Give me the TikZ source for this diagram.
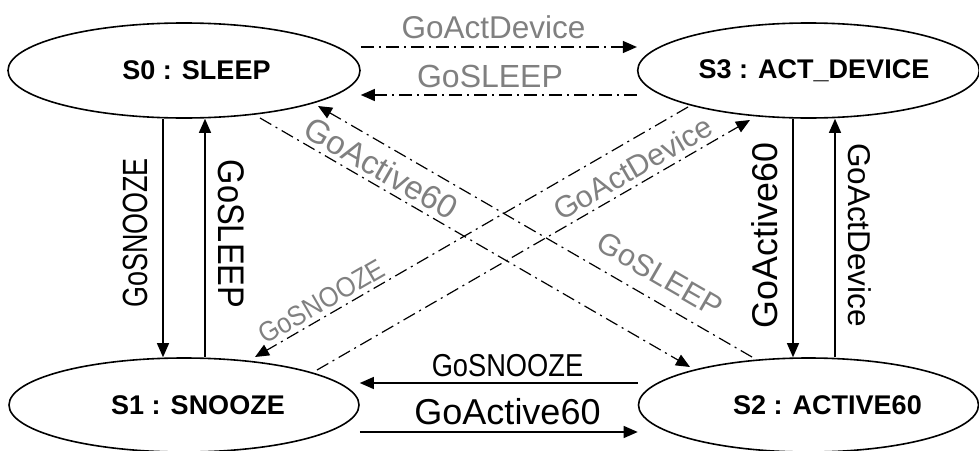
\documentclass[tikz,border=0pt]{standalone}
\usepackage{fontspec}
\usepackage{graphicx}
\setmainfont{Liberation Sans}
\usetikzlibrary{arrows.meta,shapes.geometric,calc}
\definecolor{lblgray}{RGB}{128,128,128}
\tikzset{
  state/.style={draw, ellipse, line width=1.6pt, inner sep=0pt, font=\fontsize{27}{30}\selectfont\bfseries},
  arr/.style={-{Triangle[length=14pt,width=12pt]}, line width=1.2pt},
  dd/.style={arr, dash pattern=on 13pt off 5pt on 2pt off 5pt},
  glbl/.style={text=lblgray, inner sep=0pt},
  blbl/.style={inner sep=0pt},
}
\begin{document}
\begin{tikzpicture}[x=1pt,y=-1pt]
\useasboundingbox (0,0) rectangle (979,450);
% states
\node[state, minimum width=352pt, minimum height=95pt] (S0) at (184,70.5) {\hspace*{25pt}S0 : SLEEP};
\node[state, minimum width=340pt, minimum height=95pt] (S3) at (808.5,70.5) {\hspace*{11pt}S3 : ACT\_DEVICE};
\node[state, minimum width=350pt, minimum height=94pt] (S1) at (184,405) {\hspace*{28pt}S1 : SNOOZE};
\node[state, minimum width=340pt, minimum height=94pt] (S2) at (808.5,405) {\hspace*{38pt}S2 : ACTIVE60};
% vertical connectors
\draw[arr] ($(S0.south)+(-21,0)$) -- ($(S1.north)+(-21,0)$);
\draw[arr] ($(S1.north)+(21,0)$) -- ($(S0.south)+(21,0)$);
\draw[arr] ($(S3.south)+(-15.5,0)$) -- ($(S2.north)+(-15.5,0)$);
\draw[arr] ($(S2.north)+(26.5,0)$) -- ($(S3.south)+(26.5,0)$);
% horizontal connectors
\draw[dd] ($(S0.east)+(0,-23.5)$) -- ($(S3.west)+(0,-23.5)$);
\draw[dd] ($(S3.west)+(0,24.5)$) -- ($(S0.east)+(0,24.5)$);
\draw[arr] ($(S2.west)+(0,-22)$) -- ($(S1.east)+(0,-22)$);
\draw[arr] ($(S1.east)+(0,27)$) -- ($(S2.west)+(0,27)$);
% diagonal connectors
\draw[dd] ($(S0)+(76,47.5)$) -- ($(S2)+(-118.5,-38)$);
\draw[dd] ($(S2)+(-56.5,-48)$) -- ($(S0)+(134,35.5)$);
\draw[dd] ($(S3)+(-120.5,36.5)$) -- ($(S1)+(71,-48)$);
\draw[dd] ($(S1)+(133,-35)$) -- ($(S3)+(-58.5,49.5)$);
% labels
\node[glbl, anchor=base, font=\fontsize{31.5}{34}\selectfont] (l1) at (493.5,38) {GoActDevice};
\node[glbl, anchor=base, font=\fontsize{32}{34}\selectfont] (l2) at (490,87) {GoSLEEP};
\node[blbl, anchor=base, font=\fontsize{31.7}{34}\selectfont] (l3) at (507.5,376) {\scalebox{0.86}[1]{GoSNOOZE}};
\node[blbl, anchor=base, font=\fontsize{36}{38}\selectfont] (l4) at (507.5,424) {GoActive60};
\node[blbl, anchor=base, rotate=90, font=\fontsize{35}{38}\selectfont] (l5) at (147,233) {\scalebox{0.77}[1]{GoSNOOZE}};
\node[blbl, anchor=base, rotate=-90, font=\fontsize{37}{40}\selectfont] (l6) at (218,234) {\scalebox{0.88}[1]{GoSLEEP}};
\node[blbl, anchor=base, rotate=90, font=\fontsize{35.8}{38}\selectfont] (l7) at (777,235.5) {GoActive60};
\node[blbl, anchor=base, rotate=-90, font=\fontsize{31.5}{34}\selectfont] (l8) at (848,235) {GoActDevice};
\node[glbl, rotate=-30, font=\fontsize{33}{36}\selectfont] (l9) at (381,168) {GoActive60};
\node[glbl, rotate=30, font=\fontsize{30.5}{33}\selectfont] (l10) at (633,168) {GoActDevice};
\node[glbl, rotate=30, font=\fontsize{28}{31}\selectfont] (l11) at (321.5,301.5) {\scalebox{0.9}[1]{GoSNOOZE}};
\node[glbl, rotate=-30, font=\fontsize{30.5}{33}\selectfont] (l12) at (660,274.5) {GoSLEEP};
\end{tikzpicture}
\end{document}
